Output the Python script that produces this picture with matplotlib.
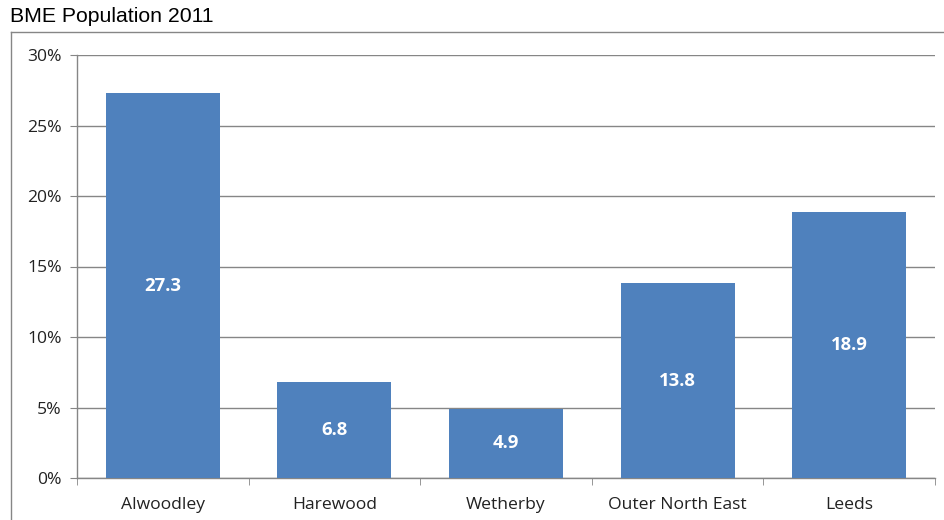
import matplotlib
matplotlib.use("Agg")
import matplotlib.pyplot as plt
from matplotlib.lines import Line2D
from matplotlib.ticker import FuncFormatter, FixedLocator

areas = ["Alwoodley", "Harewood", "Wetherby", "Outer North East", "Leeds"]
bme_pct = [27.3, 6.8, 4.9, 13.8, 18.9]
y_ticks = [0, 5, 10, 15, 20, 25, 30]

bar_color = "#4F81BD"
grey = "#868686"
label_font = "Open Sans"

fig = plt.figure(figsize=(9.45, 5.2), dpi=100)
ax = fig.add_axes([77 / 945, 1 - 478 / 520, (935 - 77) / 945, (478 - 55) / 520])

x = range(len(areas))
bars = ax.bar(x, bme_pct, width=0.665, color=bar_color, zorder=3)

for rect, v in zip(bars, bme_pct):
    ax.text(rect.get_x() + rect.get_width() / 2, v / 2, f"{v:.1f}",
            ha="center", va="center", color="white", fontsize=13.3,
            fontweight="bold", family=label_font, zorder=4)

ax.set_xlim(-0.5, len(areas) - 0.5)
ax.set_ylim(0, 30)
ax.set_yticks(y_ticks)
ax.yaxis.set_major_formatter(FuncFormatter(lambda v, p: f"{v:.0f}%"))
ax.set_xticks(list(x))
ax.set_xticklabels(areas)
ax.xaxis.set_minor_locator(FixedLocator([i - 0.5 for i in range(len(areas) + 1)]))

ax.grid(axis="y", color=grey, linewidth=1.0, zorder=0)
for s in ["top", "right"]:
    ax.spines[s].set_visible(False)
for s in ["left", "bottom"]:
    ax.spines[s].set_color(grey)
    ax.spines[s].set_linewidth(1.0)

ax.tick_params(axis="y", direction="out", length=5, color=grey, pad=6,
               labelsize=12.6, labelcolor="#222222")
ax.tick_params(axis="x", which="major", length=0, pad=14,
               labelsize=12.6, labelcolor="#222222")
ax.tick_params(axis="x", which="minor", direction="out", length=5, color=grey)
for lbl in ax.get_xticklabels() + ax.get_yticklabels():
    lbl.set_family(label_font)

# outer chart box (only left and top edges visible)
fig.add_artist(Line2D([10.5 / 945, 10.5 / 945], [0, 1 - 31.5 / 520],
                      color=grey, linewidth=1.0, transform=fig.transFigure))
fig.add_artist(Line2D([10.5 / 945, 1], [1 - 31.5 / 520, 1 - 31.5 / 520],
                      color=grey, linewidth=1.0, transform=fig.transFigure))

fig.text(10 / 945, 1 - 16 / 520, "BME Population 2011", ha="left", va="center",
         fontsize=15.3, family="Liberation Sans", color="black")

fig.savefig("out.png", dpi=100)
